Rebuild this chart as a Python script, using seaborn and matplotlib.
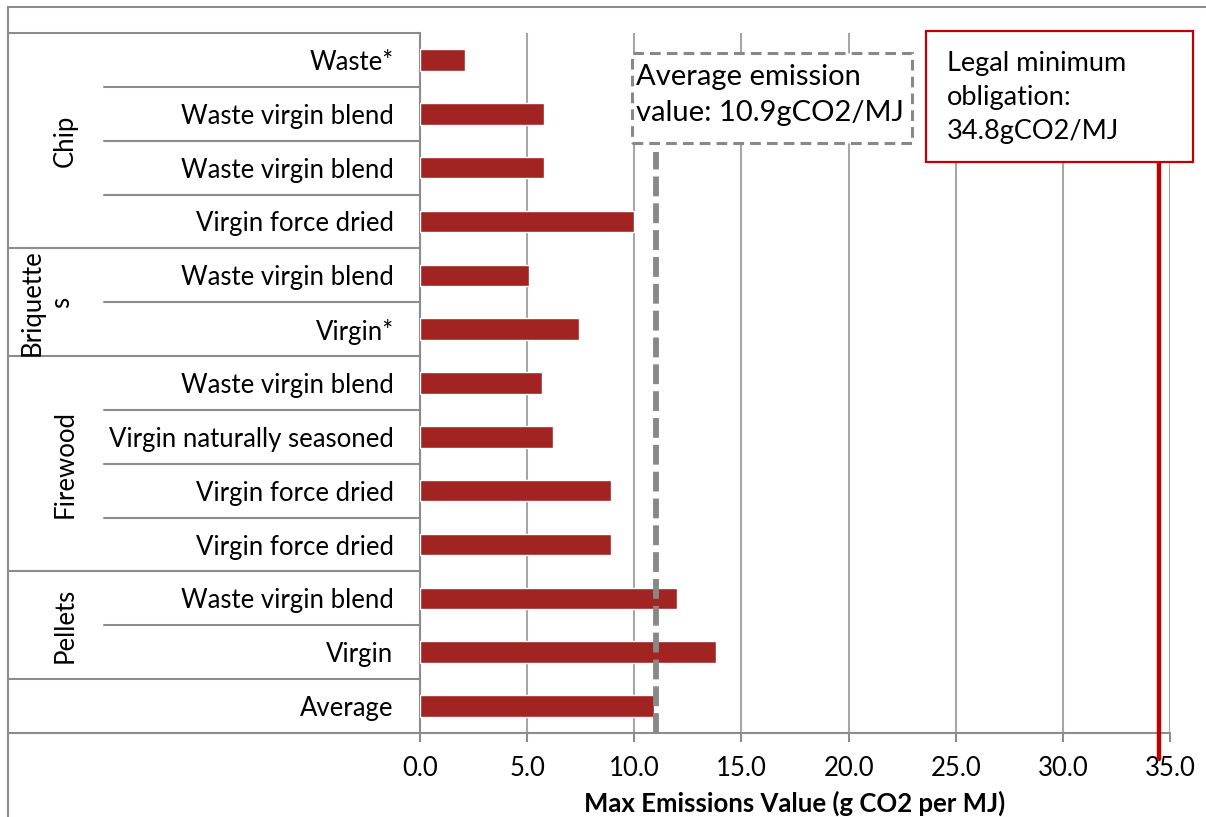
import matplotlib
matplotlib.use("Agg")
import matplotlib.pyplot as plt
import seaborn as sns
import pandas as pd
from matplotlib.lines import Line2D
from matplotlib.patches import Rectangle

# ---------------- data ----------------
group_names = ["Chip", "Briquettes", "Firewood", "Pellets", ""]
group_display = ["Chip", "Briquette\ns", "Firewood", "Pellets", ""]
group_sizes = [4, 2, 4, 2, 1]
fuel_labels = ["Waste*", "Waste virgin blend", "Waste virgin blend", "Virgin force dried",
               "Waste virgin blend", "Virgin*",
               "Waste virgin blend", "Virgin naturally seasoned", "Virgin force dried",
               "Virgin force dried",
               "Waste virgin blend", "Virgin",
               "Average"]
max_emissions = [2.1, 5.8, 5.8, 10.0,
                 5.1, 7.4,
                 5.7, 6.2, 8.9, 8.9,
                 12.0, 13.8,
                 10.9]
x_ticks = [0, 5, 10, 15, 20, 25, 30, 35]
x_tick_labels = ["0.0", "5.0", "10.0", "15.0", "20.0", "25.0", "30.0", "35.0"]
average_value = 11.0
legal_value = 34.5
avg_text = "Average emission\nvalue: 10.9gCO2/MJ"
legal_text = "Legal minimum\nobligation:\n34.8gCO2/MJ"
x_label = "Max Emissions Value (g CO2 per MJ)"

# ---------------- style ----------------
sns.set_theme(style="white")
plt.rcParams["font.family"] = ["Lato", "DejaVu Sans"]

W, H = 1206, 817
BAR = "#A22422"
GRID = "#A6A6A6"
AXC = "#8C8C8C"
RED = "#C00000"
FS = 18.5
FS_ANN = 21

def fx(px):
    return px / W

def fy(py):
    return 1 - py / H

fig = plt.figure(figsize=(W / 100, H / 100), dpi=100)
fig.patch.set_facecolor("white")
ax = fig.add_axes([fx(420), fy(733), (1170 - 420) / W, (733 - 33) / H])

df = pd.DataFrame({"row": [str(i) for i in range(len(fuel_labels))],
                   "value": max_emissions})
sns.barplot(data=df, x="value", y="row", order=list(df["row"]), orient="h",
            color=BAR, width=0.4, saturation=1, ax=ax, zorder=3)

ax.set_xlim(x_ticks[0], x_ticks[-1])
ax.set_xticks(x_ticks)
ax.set_xticklabels(x_tick_labels, fontsize=FS, color="black")
ax.set_yticks(range(len(fuel_labels)))
ax.set_yticklabels(fuel_labels, fontsize=FS, color="black")
ax.set_xlabel("")
ax.set_ylabel("")
ax.tick_params(axis="y", length=0, pad=19)
ax.tick_params(axis="x", direction="out", length=6.5, width=1.5, color=AXC, pad=10,
               bottom=True)
ax.xaxis.grid(True, color=GRID, lw=1.5, zorder=0)
ax.set_axisbelow(True)
for s in ["top", "right"]:
    ax.spines[s].set_visible(False)
for s in ["left", "bottom"]:
    ax.spines[s].set_color(AXC)
    ax.spines[s].set_linewidth(1.5)

# table-like category lines
ytr = ax.get_yaxis_transform()
x_outer = (8 - 420) / 750
x_inner = (104 - 420) / 750
x_group = (65 - 420) / 750
n = len(fuel_labels)
boundaries = {0}
acc = 0
for gs in group_sizes:
    acc += gs
    boundaries.add(acc)
for i in range(n + 1):
    x0 = x_outer if i in boundaries else x_inner
    ax.add_line(Line2D([x0, 0], [i - 0.5, i - 0.5], transform=ytr, color=AXC,
                       lw=1.5, clip_on=False))

acc = 0
for name, gs in zip(group_display, group_sizes):
    if name:
        center = acc + (gs - 1) / 2
        xg = x_group if "\n" not in name else (47 - 420) / 750
        ax.text(xg, center, name, transform=ytr, rotation=90, ha="center",
                va="center", fontsize=FS, color="black", multialignment="center",
                linespacing=1.25)
    acc += gs

# reference lines
avg_line = ax.axvline(average_value, ymin=0, ymax=(733 - 152) / 700, color="#888888",
                      lw=4.2, zorder=4)
avg_line.set_dashes((3.4, 1.2))
ax.axvline(legal_value, ymin=(733 - 759) / 700, ymax=(733 - 162) / 700, color=RED,
           lw=3.2, zorder=4, clip_on=False)

# annotation boxes
r1 = Rectangle((fx(632), fy(143)), fx(912) - fx(632), fy(53) - fy(143),
               transform=fig.transFigure, facecolor="white", edgecolor="#888888",
               lw=2.2, linestyle=(0, (3.5, 2)), zorder=5)
fig.add_artist(r1)
fig.text(fx(636), fy(95), avg_text, fontsize=FS_ANN, va="center", ha="left",
         linespacing=1.45, zorder=6, color="black")
r2 = Rectangle((fx(926), fy(162)), fx(1193) - fx(926), fy(31) - fy(162),
               transform=fig.transFigure, facecolor="white", edgecolor=RED,
               lw=1.6, zorder=5)
fig.add_artist(r2)
fig.text(fx(947), fy(98), legal_text, fontsize=FS_ANN * 0.93, va="center", ha="left",
         linespacing=1.45, zorder=6, color="black")

# x label
fig.text(fx(795), fy(803), x_label, fontsize=FS, fontweight="bold", ha="center",
         va="center", color="black")

# outer border (top and left)
fig.add_artist(Line2D([fx(8), 1], [fy(7), fy(7)], transform=fig.transFigure,
                      color=AXC, lw=1.5))
fig.add_artist(Line2D([fx(8), fx(8)], [fy(7), 0], transform=fig.transFigure,
                      color=AXC, lw=1.5))

fig.savefig("out.png", dpi=100)
